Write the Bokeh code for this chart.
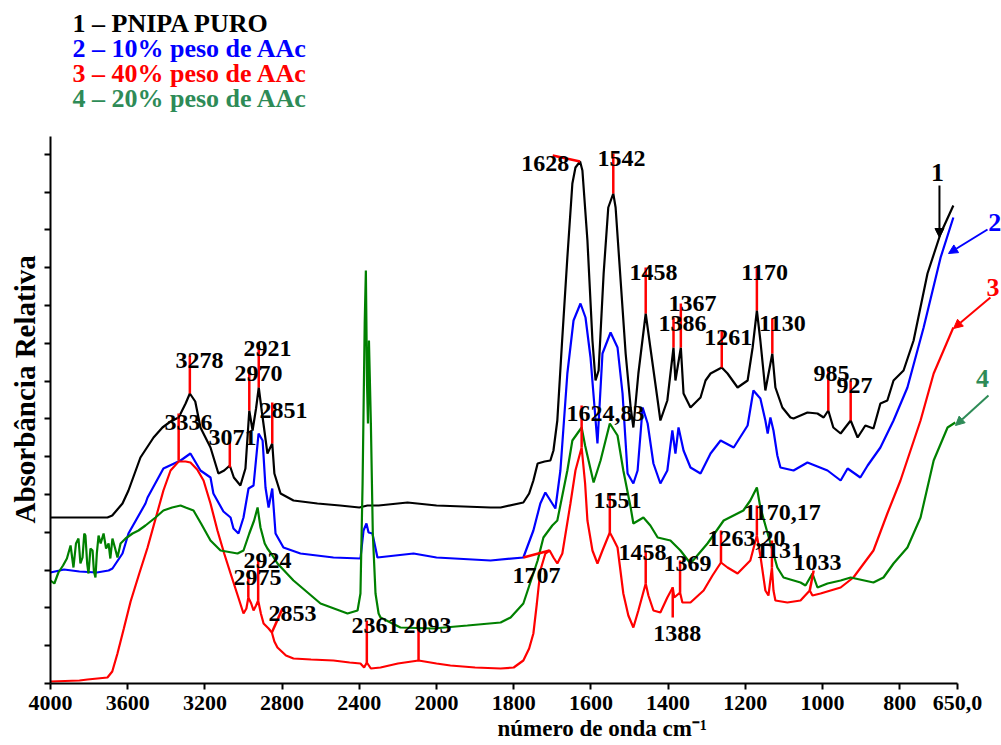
import numpy as np
from bokeh.plotting import figure
from bokeh.models import FixedTicker, Arrow, NormalHead, Title, CustomJSTickFormatter
from bokeh.core.properties import value
from bokeh.embed import file_html
from bokeh.resources import INLINE

# ---------------- data ----------------
black_wn = [4000, 3705, 3680, 3627, 3596, 3534, 3466, 3420, 3378, 3336, 3300, 3278, 3250, 3223, 3171, 3130,
            3100, 3071, 3050, 3016, 2990, 2970, 2953, 2935, 2921, 2905, 2876, 2851, 2840, 2808, 2741, 2617,
            2500, 2400, 2358, 2300, 2150, 2000, 1860, 1834, 1775, 1760, 1749, 1738, 1720, 1705, 1697, 1687,
            1675, 1661, 1648, 1640, 1628, 1622, 1609, 1596, 1588, 1580, 1567, 1555, 1542, 1536, 1523, 1510,
            1497, 1490, 1477, 1458, 1446, 1427, 1420, 1402, 1386, 1381, 1367, 1360, 1342, 1316, 1303, 1290,
            1261, 1246, 1220, 1194, 1181, 1170, 1161, 1148, 1130, 1122, 1104, 1083, 1075, 1039, 1013, 997,
            985, 972, 953, 927, 909, 889, 868, 850, 832, 816, 790, 764, 728, 694, 661]
black_abs = [166, 166, 168, 180, 193, 226, 246, 256, 262, 266, 280, 290, 282, 256, 236, 210,
             213, 218, 206, 198, 215, 273, 253, 275, 296, 272, 230, 240, 210, 190, 183, 180,
             178, 176, 178, 178, 181, 178, 176, 176, 181, 190, 203, 220, 222, 223, 233, 263,
             340, 426, 500, 516, 522, 513, 443, 343, 303, 313, 410, 476, 490, 476, 403, 330,
             276, 256, 310, 370, 336, 283, 263, 283, 336, 303, 336, 290, 276, 286, 303, 310,
             316, 310, 296, 303, 336, 373, 343, 293, 330, 296, 276, 266, 265, 271, 270, 266,
             273, 256, 250, 263, 246, 258, 255, 280, 283, 303, 313, 343, 410, 450, 478]

blue_wn = [4000, 3930, 3850, 3760, 3699, 3679, 3627, 3596, 3508, 3497, 3415, 3326, 3275, 3223, 3171, 3156,
           3104, 3067, 3052, 3026, 3000, 2974, 2948, 2922, 2901, 2886, 2870, 2851, 2834, 2793, 2705, 2534,
           2394, 2378, 2363, 2352, 2332, 2306, 2119, 2000, 1860, 1775, 1749, 1731, 1718, 1705, 1692, 1679,
           1661, 1645, 1627, 1614, 1601, 1583, 1570, 1549, 1531, 1518, 1505, 1490, 1479, 1466, 1453, 1438,
           1420, 1402, 1389, 1381, 1373, 1360, 1342, 1316, 1290, 1264, 1230, 1194, 1179, 1161, 1148, 1142,
           1135, 1127, 1117, 1109, 1075, 1039, 987, 953, 935, 902, 883, 850, 816, 780, 738, 694, 661]
blue_abs = [111, 114, 112, 111, 113, 115, 130, 150, 180, 186, 215, 223, 230, 213, 206, 190,
            172, 166, 155, 150, 166, 195, 198, 250, 243, 196, 176, 195, 150, 136, 130, 126,
            125, 153, 160, 151, 150, 126, 130, 126, 123, 126, 153, 180, 191, 183, 175, 213,
            310, 363, 380, 366, 326, 240, 330, 351, 336, 290, 210, 200, 213, 276, 260, 220,
            200, 213, 253, 230, 256, 233, 216, 210, 230, 243, 236, 258, 293, 285, 263, 250,
            266, 253, 228, 216, 213, 221, 213, 203, 215, 206, 218, 236, 263, 296, 356, 426, 466]

red_wn = [4000, 3850, 3808, 3705, 3680, 3653, 3620, 3585, 3540, 3497, 3415, 3378, 3336, 3300, 3275, 3240,
          3207, 3171, 3135, 3100, 3067, 3030, 3000, 2985, 2975, 2960, 2948, 2935, 2924, 2910, 2896, 2870,
          2853, 2840, 2824, 2780, 2741, 2650, 2534, 2450, 2394, 2375, 2361, 2340, 2290, 2200, 2093, 2000,
          1964, 1900, 1834, 1800, 1775, 1760, 1749, 1740, 1731, 1718, 1707, 1697, 1687, 1674, 1653, 1640,
          1624, 1615, 1609, 1596, 1583, 1570, 1551, 1544, 1531, 1516, 1503, 1490, 1477, 1458, 1451, 1438,
          1420, 1402, 1388, 1384, 1369, 1363, 1342, 1308, 1285, 1263, 1246, 1220, 1187, 1170, 1161, 1148,
          1140, 1131, 1127, 1122, 1091, 1057, 1033, 1026, 1005, 953, 920, 868, 832, 798, 746, 712, 661]
red_abs = [2, 3, 4, 6, 12, 30, 55, 82, 110, 136, 193, 213, 222, 222, 221, 214,
           203, 180, 153, 130, 110, 88, 70, 75, 86, 80, 73, 78, 83, 70, 60, 55,
           51, 42, 36, 28, 25, 24, 23, 21, 20, 16, 21, 15, 16, 20, 23, 20,
           18, 16, 15, 16, 23, 35, 50, 80, 113, 130, 133, 126, 120, 130, 180, 213,
           236, 200, 163, 133, 120, 133, 151, 146, 136, 90, 68, 56, 73, 100, 88, 73,
           71, 86, 96, 86, 91, 81, 81, 93, 108, 121, 116, 110, 123, 148, 128, 93,
           88, 116, 93, 83, 81, 83, 93, 88, 90, 96, 106, 133, 170, 203, 263, 310, 356]

green_wn = [4000, 3980, 3959, 3935, 3915, 3896, 3881, 3868, 3855, 3845, 3834, 3825, 3819, 3810, 3803, 3793,
            3782, 3775, 3767, 3760, 3751, 3740, 3725, 3712, 3699, 3690, 3679, 3665, 3653, 3637, 3611, 3575,
            3544, 3508, 3456, 3415, 3370, 3326, 3300, 3259, 3220, 3171, 3119, 3060, 3031, 3000, 2970, 2945,
            2927, 2912, 2890, 2876, 2850, 2824, 2741, 2601, 2461, 2409, 2394, 2383, 2372, 2366, 2360, 2355,
            2350, 2340, 2330, 2316, 2300, 2290, 2187, 2016, 1920, 1834, 1808, 1775, 1738, 1723, 1700, 1687,
            1661, 1648, 1624, 1615, 1593, 1575, 1551, 1531, 1516, 1497, 1490, 1464, 1446, 1427, 1394, 1368,
            1342, 1298, 1256, 1205, 1187, 1170, 1161, 1142, 1117, 1101, 1057, 1044, 1026, 1013, 987, 953,
            927, 868, 842, 816, 780, 746, 712, 676, 656]
green_abs = [103, 100, 111, 118, 125, 138, 116, 140, 145, 120, 126, 150, 148, 120, 110, 135,
             133, 112, 106, 130, 148, 140, 150, 135, 140, 125, 145, 135, 126, 140, 145, 150,
             153, 158, 166, 173, 176, 178, 176, 173, 160, 143, 133, 131, 130, 133, 150, 163,
             176, 156, 140, 135, 128, 120, 103, 80, 70, 73, 90, 200, 360, 413, 300, 260,
             343, 260, 150, 90, 70, 66, 56, 55, 58, 61, 66, 80, 123, 146, 158, 163,
             213, 243, 256, 238, 201, 223, 260, 248, 213, 176, 160, 166, 158, 146, 143, 133,
             120, 140, 163, 173, 183, 196, 176, 150, 116, 106, 101, 98, 110, 96, 100, 103,
             106, 101, 106, 120, 136, 166, 223, 256, 261]

series_names = ["1 \u2013 PNIPA PURO", "2 \u2013 10% peso de AAc",
                "3 \u2013 40% peso de AAc", "4 \u2013 20% peso de AAc"]

tick_wn = [4000, 3600, 3200, 2800, 2400, 2000, 1800, 1600, 1400, 1200, 1000, 800, 650]
tick_text = ["4000", "3600", "3200", "2800", "2400", "2000", "1800", "1600", "1400", "1200", "1000", "800", "650,0"]

# peak markers: (wn_from, abs_from, wn_to, abs_to)
marker_seg = [
    (3278, 290, 3278, 328), (3336, 223, 3336, 270), (3071, 216, 3071, 243), (2970, 273, 2970, 316),
    (2921, 296, 2921, 341), (2851, 240, 2851, 281), (1628, 522, 1699, 528), (1542, 490, 1542, 530),
    (1458, 370, 1458, 416), (1386, 336, 1386, 366), (1367, 336, 1367, 380), (1261, 316, 1261, 353),
    (1170, 373, 1170, 416), (1130, 330, 1130, 365), (985, 273, 985, 315), (927, 263, 927, 303),
    (2975, 86, 2975, 113), (2924, 83, 2924, 128), (2853, 51, 2798, 75), (2361, 21, 2361, 63),
    (2093, 23, 2093, 61), (1707, 133, 1775, 126), (1624, 236, 1624, 278), (1551, 151, 1551, 190),
    (1458, 100, 1458, 133), (1388, 96, 1388, 66), (1369, 91, 1369, 123), (1263, 121, 1263, 153),
    (1170, 148, 1170, 178), (1131, 116, 1131, 143), (1033, 93, 1023, 113),
]
# peak labels: (text, wn, abs)
peak_labels = [
    ("3278", 3228, 323), ("3336", 3285, 261), ("3071", 3057, 246), ("2970", 2922, 310),
    ("2921", 2876, 335), ("2851", 2793, 273), ("1628", 1718, 520), ("1542", 1521, 525),
    ("1458", 1438, 411), ("1386", 1363, 360), ("1367", 1337, 380), ("1261", 1244, 346),
    ("1170", 1150, 411), ("1130", 1104, 360), ("985", 977, 310), ("927", 917, 298),
    ("2975", 2927, 106), ("2924", 2876, 123), ("2853", 2746, 70), ("2361", 2316, 58),
    ("2093", 2047, 58), ("1707", 1741, 108), ("1624,83", 1562, 270), ("1551", 1531, 183),
    ("1458", 1466, 131), ("1388", 1376, 50), ("1369", 1350, 120), ("1263,20", 1197, 145),
    ("1170,17", 1104, 171), ("1131", 1111, 133), ("1033", 1013, 121),
]


# split wavenumber scale (400 cm-1 per division above 2000, 200 below)
def xpos(w):
    w = np.asarray(w, dtype=float)
    return np.where(w >= 2000, 4000 - w, 2000 + 2 * (2000 - w))


FONT = "Liberation Serif"
PX = 0.193  # pixels per x unit

p = figure(width=1001, height=745, x_range=(0, 951 / PX), y_range=(0, 683),
           output_backend="svg", toolbar_location=None,
           min_border_left=50, min_border_right=0, min_border_top=0, min_border_bottom=62)
p.outline_line_color = None
p.xgrid.visible = False
p.ygrid.visible = False
p.background_fill_color = "white"
p.border_fill_color = "white"

# axes
xa = p.xaxis[0]
xa.ticker = FixedTicker(ticks=[int(v) for v in xpos(tick_wn)])
xa.major_label_overrides = {int(v): t for v, t in zip(xpos(tick_wn), tick_text)}
xa.bounds = (0, int(xpos(650)))
xa.axis_line_width = 2
xa.major_tick_line_width = 2
xa.major_tick_out = 6
xa.major_tick_in = 0
xa.minor_tick_line_color = None
xa.major_label_standoff = 6
xa.major_label_text_font = FONT
xa.major_label_text_font_style = "bold"
xa.major_label_text_font_size = "22px"
xa.major_label_text_color = "black"

ya = p.yaxis[0]
ya.ticker = FixedTicker(ticks=[round(37.8 * i, 1) for i in range(15)])
ya.formatter = CustomJSTickFormatter(code="return ''")
ya.bounds = (0, 547)
ya.axis_line_width = 2
ya.major_tick_line_width = 2
ya.major_tick_out = 6
ya.major_tick_in = 0
ya.minor_tick_line_color = None
ya.major_label_standoff = 0

# axis titles
p.add_layout(Title(text="n\u00famero de onda cm\u207b\u00b9", align="left", offset=447, standoff=2,
                   text_font=FONT, text_font_style="bold", text_font_size="23px",
                   text_color="black"), "below")
p.add_layout(Title(text="Absorb\u00e2ncia Relativa", align="left", offset=160, standoff=7,
                   text_font=FONT, text_font_style="bold", text_font_size="29px",
                   text_color="black"), "left")

# spectra
for wn, ab, col in [(black_wn, black_abs, "black"), (blue_wn, blue_abs, "#0000ff"),
                    (red_wn, red_abs, "#ff0000"), (green_wn, green_abs, "#008000")]:
    p.line(xpos(wn), ab, line_color=col, line_width=2.2)

# peak markers
p.segment(x0=xpos([m[0] for m in marker_seg]), y0=[m[1] for m in marker_seg],
          x1=xpos([m[2] for m in marker_seg]), y1=[m[3] for m in marker_seg],
          line_color="#ff0000", line_width=2.5)

p.text(x=xpos([l[1] for l in peak_labels]), y=[l[2] for l in peak_labels], text=[l[0] for l in peak_labels],
       text_font=value(FONT), text_font_style="bold", text_font_size="24px",
       text_align="center", text_baseline="middle", text_color="black")

# legend block at top
leg_colors = ["black", "#0000ff", "#ff0000", "#2e8b57"]
p.text(x=[114] * 4, y=[660, 635, 610, 585], text=series_names, text_color=leg_colors,
       text_font=value(FONT), text_font_style="bold", text_font_size="26px",
       text_align="left", text_baseline="middle")

# curve number tags with arrows
tag_x = [4596, 4893, 4883, 4829]
tag_y = [511, 461, 396, 305]
p.text(x=tag_x, y=tag_y, text=["1", "2", "3", "4"], text_color=leg_colors,
       text_font=value(FONT), text_font_style="bold", text_font_size="26px",
       text_align="center", text_baseline="middle")
arrows = [(4606, 498, 4606, 446, "black"), (4855, 454, 4653, 430, "#0000ff"),
          (4870, 386, 4679, 355, "#ff0000"), (4860, 288, 4689, 258, "#2e8b57")]
for xs, ys, xe, ye, c in arrows:
    p.add_layout(Arrow(x_start=xs, y_start=ys, x_end=xe, y_end=ye, line_color=c, line_width=2,
                       end=NormalHead(size=9, fill_color=c, line_color=c)))

open("out.html", "w").write(file_html(p, INLINE))
